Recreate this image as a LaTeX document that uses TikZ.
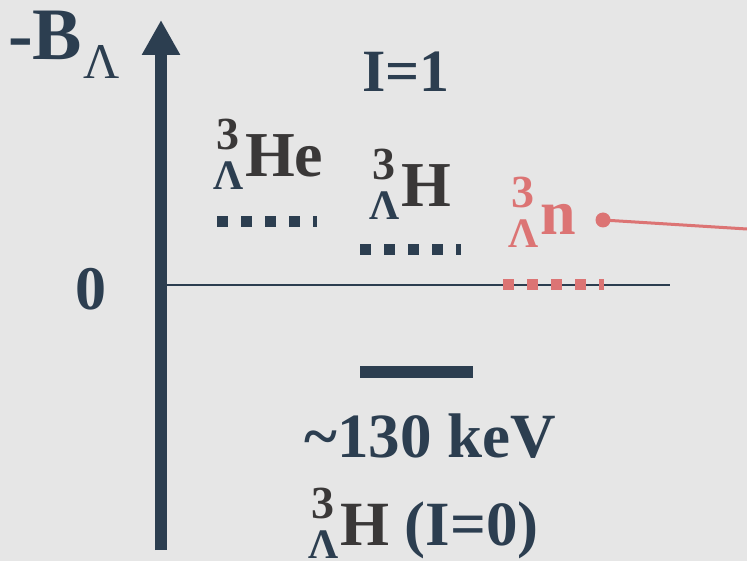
\documentclass[tikz,border=0pt]{standalone}
\usepackage{fontspec}
\setmainfont{Liberation Serif}
\usetikzlibrary{arrows.meta}

\definecolor{navy}{HTML}{2C3E50}
\definecolor{coral}{HTML}{DC7474}
\definecolor{ink}{HTML}{3A3838}
\definecolor{paper}{HTML}{E6E6E6}

% pre-script 3 over Lambda, then the element
\newcommand{\hypnuc}[3]{\rlap{\makebox[30pt][c]{\raisebox{27pt}{\fontsize{46}{46}\selectfont\color{#1}3}}}%
  \makebox[30pt][c]{\raisebox{-13pt}{\fontsize{42}{42}\selectfont\color{#2}Λ}}\kern2pt#3}

\begin{document}
\begin{tikzpicture}[
  x=1pt, y=-1pt,
  lbl/.style={inner sep=0pt, anchor=base west, font=\bfseries},
  level/.style={line width=11pt, dash pattern=on 11pt off 13pt},
  axisline/.style={line width=12pt, navy, -{Triangle[length=35pt, width=36pt]}},
]
  \fill[paper] (0,0) rectangle (747,561);
  \useasboundingbox (0,0) rectangle (747,561);

  % energy axis
  \coordinate (axbot) at (161,550);
  \coordinate (axtop) at (161,20);
  \draw[axisline] (axbot) -- (axtop);
  \node[lbl, text=navy, font=\bfseries\fontsize{74}{74}\selectfont] (bname) at (8,60) {-B};
  \node[lbl, text=navy, font=\fontsize{50}{50}\selectfont] (bsub) at (83,79) {Λ};
  \node[lbl, anchor=base, text=navy, font=\bfseries\fontsize{62}{62}\selectfont] (zero) at (91,310) {0};
  \node[lbl, anchor=base, text=navy, font=\bfseries\fontsize{60}{60}\selectfont] (iso) at (406,92) {I=1};

  % threshold
  \coordinate (thl) at (167,285);
  \coordinate (thr) at (670,285);
  \draw[navy, line width=2.5pt] (thl) -- (thr);

  % I=1 states
  \node[lbl, text=ink, font=\bfseries\fontsize{64}{64}\selectfont] (he) at (213,177) {\hypnuc{ink}{navy}{He}};
  \node[lbl, text=ink, font=\bfseries\fontsize{64}{64}\selectfont] (hh) at (369,207) {\hypnuc{ink}{navy}{H}};
  \node[lbl, text=coral, font=\bfseries\fontsize{64}{64}\selectfont] (nn) at (508,235) {\hypnuc{coral}{coral}{n}};

  \coordinate (heL) at (217,222);
  \coordinate (heR) at (317,222);
  \coordinate (hhL) at (360,250);
  \coordinate (hhR) at (461,250);
  \coordinate (nnL) at (503,285);
  \coordinate (nnR) at (604,285);
  \draw[level, navy] (heL) -- (heR);
  \draw[level, navy] (hhL) -- (hhR);
  \draw[level, coral] (nnL) -- (nnR);

  % pointer from the nn label
  \node[circle, fill=coral, inner sep=0pt, minimum size=15pt] (dot) at (603,220) {};
  \coordinate (out) at (747,229);
  \draw[coral, line width=3pt] (dot.center) -- (out);

  % ground state I=0
  \coordinate (gsL) at (360,372);
  \coordinate (gsR) at (473,372);
  \draw[navy, line width=12pt] (gsL) -- (gsR);
  \node[lbl, anchor=base, text=navy, font=\bfseries\fontsize{63}{63}\selectfont] (kev) at (430,457) {\textasciitilde 130 keV};
  \node[lbl, text=ink, font=\bfseries\fontsize{63}{63}\selectfont] (gs) at (308,545) {\hypnuc{ink}{navy}{H} \textcolor{navy}{(I=0)}};
\end{tikzpicture}
\end{document}
